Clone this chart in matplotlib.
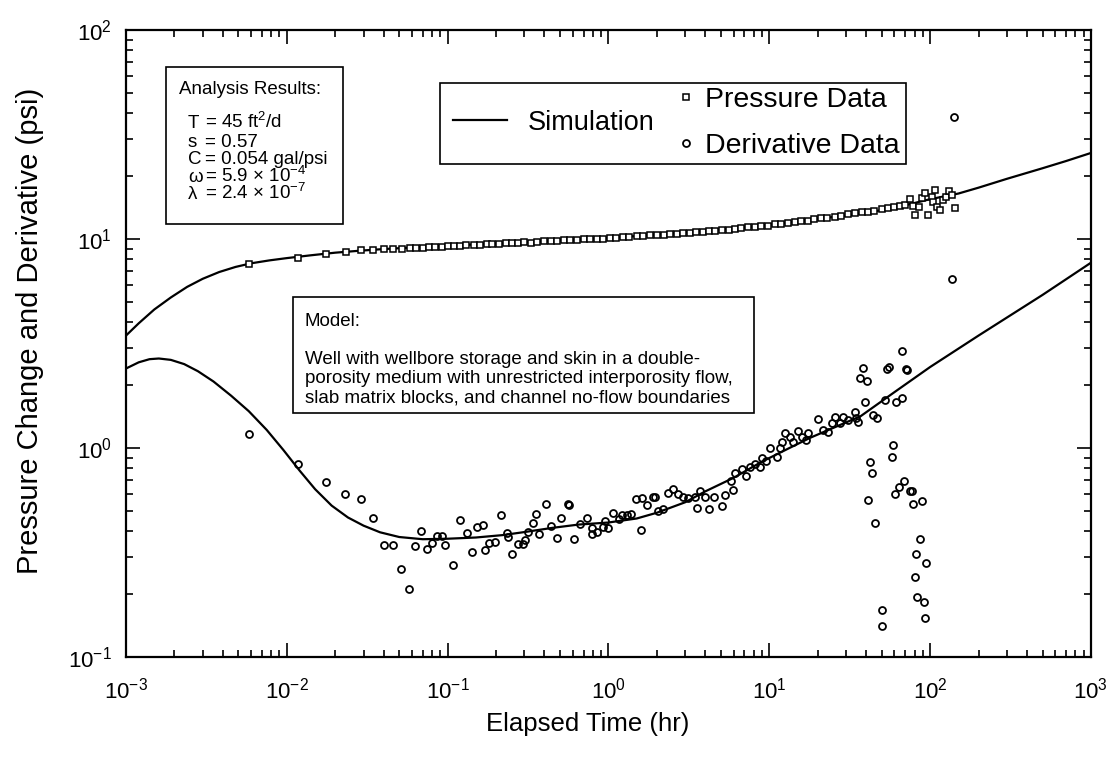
import matplotlib
matplotlib.use("Agg")
import matplotlib.pyplot as plt
from matplotlib.patches import Rectangle
from matplotlib.ticker import LogLocator, NullFormatter

plt.rcParams['font.family'] = ['Liberation Sans', 'DejaVu Sans']
plt.rcParams['mathtext.fontset'] = 'custom'
plt.rcParams['mathtext.rm'] = 'Liberation Sans'
plt.rcParams['mathtext.it'] = 'Liberation Sans:italic'
plt.rcParams['mathtext.bf'] = 'Liberation Sans:bold'
plt.rcParams['mathtext.default'] = 'regular'

# simulated type curves
sim_t = [0.001, 0.0012, 0.0015, 0.0019, 0.0024, 0.003, 0.0038, 0.0048, 0.006, 0.0078,
         0.01, 0.014, 0.02, 0.028, 0.04, 0.06, 0.1, 0.2, 0.5, 1,
         2, 3, 5, 7, 10, 14, 20, 30, 44, 65,
         100, 150, 200, 300, 500, 700, 1000]
sim_p = [3.45, 3.95, 4.6, 5.25, 5.9, 6.45, 6.95, 7.35, 7.65, 7.9,
         8.1, 8.35, 8.6, 8.78, 8.95, 9.1, 9.3, 9.5, 9.85, 10.1,
         10.5, 10.75, 11.1, 11.35, 11.7, 12.05, 12.5, 12.95, 13.5, 14.3,
         15.5, 16.5, 17.6, 19.4, 21.8, 23.6, 25.8]

simd_t = [0.001, 0.0012, 0.0014, 0.0016, 0.0019, 0.0023, 0.0028, 0.0035, 0.0045, 0.0058,
          0.0075, 0.0095, 0.012, 0.015, 0.019, 0.024, 0.03, 0.038, 0.05, 0.07,
          0.1, 0.15, 0.22, 0.3, 0.45, 0.65, 1.0, 1.5, 2, 3,
          4, 6, 9, 13, 18, 27, 37, 60, 100, 200,
          500, 1000]
sim_d = [2.4, 2.57, 2.66, 2.68, 2.64, 2.52, 2.33, 2.08, 1.78, 1.5,
         1.22, 0.98, 0.78, 0.635, 0.53, 0.465, 0.425, 0.395, 0.375, 0.366,
         0.368, 0.373, 0.383, 0.396, 0.415, 0.43, 0.44, 0.46, 0.49, 0.55,
         0.62, 0.72, 0.86, 0.99, 1.12, 1.28, 1.42, 1.85, 2.44, 3.45,
         5.4, 7.7]

# pressure change data
press_t = [0.0058, 0.0118, 0.0175, 0.0233, 0.029, 0.0345, 0.040, 0.046, 0.052, 0.058,
           0.064, 0.070, 0.077, 0.084, 0.092, 0.10, 0.11, 0.12, 0.13, 0.145,
           0.16, 0.175, 0.19, 0.21, 0.23, 0.25, 0.275, 0.30, 0.33, 0.36,
           0.40, 0.44, 0.48, 0.53, 0.58, 0.64, 0.70, 0.77, 0.85, 0.93,
           1.02, 1.12, 1.23, 1.35, 1.5, 1.65, 1.8, 2.0, 2.2, 2.4,
           2.65, 2.9, 3.2, 3.5, 3.85, 4.2, 4.6, 5.1, 5.6, 6.1,
           6.7, 7.4, 8.1, 8.9, 9.8, 10.8, 11.9, 13.1, 14.4, 15.8,
           17.4, 19.1, 21, 23, 25.5, 28, 31, 34, 37.5, 41,
           45, 50, 55, 60, 65, 70,
           75.1, 78.0, 80.7, 85.8, 88.8, 93.1, 96.8, 102.5, 104.8, 107.4,
           110.1, 115.4, 121, 125.8, 131.3, 136.5, 143]
press_p = [7.55, 8.15, 8.5, 8.7, 8.85, 8.85, 8.95, 8.95, 9.0, 9.05,
           9.05, 9.1, 9.2, 9.15, 9.2, 9.25, 9.3, 9.25, 9.35, 9.4,
           9.4, 9.45, 9.5, 9.45, 9.55, 9.55, 9.6, 9.65, 9.6, 9.7,
           9.75, 9.8, 9.8, 9.85, 9.9, 9.9, 9.95, 10.0, 10.05, 10.05,
           10.1, 10.15, 10.2, 10.25, 10.3, 10.35, 10.4, 10.45, 10.5, 10.55,
           10.6, 10.65, 10.7, 10.8, 10.85, 10.9, 10.95, 11.05, 11.1, 11.2,
           11.25, 11.35, 11.4, 11.55, 11.6, 11.75, 11.85, 11.95, 12.05, 12.15,
           12.25, 12.4, 12.55, 12.65, 12.8, 12.95, 13.1, 13.25, 13.4, 13.5,
           13.65, 13.85, 14.0, 14.2, 14.45, 14.6,
           15.54, 14.38, 13.02, 14.27, 15.66, 16.55, 13.02, 15.94, 15.08, 17.16,
           14.27, 13.76, 15.37, 15.94, 17.02, 16.24, 14.03]

# derivative data
deriv_t = [0.00585, 0.0118, 0.0175, 0.0231, 0.0288, 0.0344, 0.0402, 0.0457, 0.0515, 0.0573,
           0.063, 0.0686, 0.0741, 0.0796, 0.0855, 0.0919, 0.0968, 0.108, 0.1194, 0.1315,
           0.1418, 0.153, 0.1653, 0.170, 0.1816, 0.198, 0.2148, 0.2331, 0.2375, 0.2504,
           0.2728, 0.293, 0.303, 0.3177, 0.341, 0.353, 0.3717, 0.409, 0.4415, 0.477,
           0.5095, 0.558, 0.571, 0.611, 0.666, 0.733, 0.794, 0.794, 0.853, 0.922,
           0.953, 0.990, 1.073, 1.169, 1.22, 1.30, 1.382, 1.479, 1.588, 1.611,
           1.745, 1.902, 1.949, 2.026, 2.195, 2.358, 2.533, 2.720, 2.923, 3.14,
           3.456, 3.572, 3.713, 3.989, 4.24, 4.556, 5.066, 5.31, 5.763, 5.93,
           6.13, 6.745, 7.175, 7.595, 8.16, 8.766, 8.98, 9.55, 10.1, 11.13,
           11.67, 11.96, 12.54, 13.47, 14.12, 15.17, 15.92, 16.94, 17.51, 20.2,
           21.7, 23.3, 24.5, 25.7, 27.6, 28.9, 31.0, 34.2, 34.7, 35.5,
           36.7, 38.5, 39.4, 40.7, 41.2, 42.5, 43.6, 44.0, 45.3, 47.0,
           50.07, 50.3, 52.5, 53.8, 55.8, 57.8, 58.6, 60.8, 61.5, 63.9,
           66.7, 66.7, 69.2, 70.9, 72.2, 74.7, 76.9, 78.0, 80.3, 81.5,
           83.4, 86.3, 88.8, 91.4, 93.5, 94.0, 137.6, 141.6]
deriv_d = [1.17, 0.836, 0.688, 0.600, 0.568, 0.462, 0.345, 0.345, 0.264, 0.211,
           0.341, 0.402, 0.330, 0.352, 0.380, 0.378, 0.345, 0.275, 0.454, 0.393,
           0.319, 0.417, 0.428, 0.326, 0.352, 0.354, 0.476, 0.393, 0.374, 0.310,
           0.348, 0.348, 0.363, 0.395, 0.436, 0.485, 0.389, 0.541, 0.423, 0.372,
           0.461, 0.538, 0.534, 0.367, 0.433, 0.464, 0.413, 0.386, 0.398, 0.419,
           0.449, 0.416, 0.490, 0.459, 0.478, 0.478, 0.482, 0.568, 0.405, 0.574,
           0.534, 0.585, 0.585, 0.499, 0.512, 0.607, 0.634, 0.602, 0.581, 0.574,
           0.585, 0.515, 0.625, 0.585, 0.512, 0.585, 0.528, 0.596, 0.695, 0.630,
           0.757, 0.791, 0.735, 0.809, 0.836, 0.814, 0.893, 0.870, 0.997, 0.909,
           0.997, 1.072, 1.176, 1.133, 1.072, 1.21, 1.133, 1.092, 1.176, 1.372,
           1.219, 1.197, 1.313, 1.412, 1.313, 1.412, 1.361, 1.492, 1.387, 1.336,
           2.17, 2.41, 1.665, 2.10, 0.564, 0.854, 0.757, 1.439, 0.439, 1.387,
           0.168, 0.141, 1.697, 2.38, 2.43, 0.906, 1.034, 0.602, 1.665, 0.649,
           1.729, 2.92, 0.698, 2.38, 2.36, 0.625, 0.623, 0.538, 0.242, 0.310,
           0.194, 0.366, 0.558, 0.184, 0.154, 0.283, 6.44, 38.2]

fig = plt.figure(figsize=(11.18, 7.59), dpi=100)
ax = fig.add_axes([0.1127, 0.1344, 0.8631, 0.8261])

sim_h, = ax.plot(sim_t, sim_p, color='black', lw=1.6)
ax.plot(simd_t, sim_d, color='black', lw=1.6)
p_h, = ax.plot(press_t, press_p, ls='none', marker='s', ms=4.6, mfc='white',
               mec='black', mew=1.1)
d_h, = ax.plot(deriv_t, deriv_d, ls='none', marker='o', ms=5.0, mfc='none',
               mec='black', mew=1.3)

ax.set_xscale('log')
ax.set_yscale('log')
ax.set_xlim(1e-3, 1e3)
ax.set_ylim(0.1, 100)
ax.xaxis.set_minor_locator(LogLocator(base=10, subs=range(2, 10), numticks=20))
ax.yaxis.set_minor_locator(LogLocator(base=10, subs=range(2, 10), numticks=20))
ax.xaxis.set_minor_formatter(NullFormatter())
ax.yaxis.set_minor_formatter(NullFormatter())
ax.tick_params(which='both', direction='in', top=True, right=True, width=1.2)
ax.tick_params(which='major', length=10, labelsize=16)
ax.tick_params(axis='x', which='major', pad=15)
ax.tick_params(axis='y', which='major', pad=10)
ax.tick_params(which='minor', length=5)
for sp in ax.spines.values():
    sp.set_linewidth(1.6)

fig.text(588 / 1118, 1 - 724 / 759, 'Elapsed Time (hr)', fontsize=18.5,
         ha='center', va='center')
fig.text(30 / 1118, 1 - 331 / 759, 'Pressure Change and Derivative (psi)', fontsize=21,
         rotation=90, ha='center', va='center')

# legend: simulation on the left, data markers on the right, one common frame
ax.add_patch(Rectangle((0.3254, 0.7863), 0.4829, 0.1292, transform=ax.transAxes,
                       fill=False, ec='black', lw=1.2, zorder=5))
leg1 = ax.legend([sim_h], ['Simulation'], loc='center left', bbox_to_anchor=(0.3389, 0.852),
                 frameon=False, fontsize=19.5, handlelength=2.0, handletextpad=0.75,
                 borderpad=0, borderaxespad=0)
ax.add_artist(leg1)
ax.legend([p_h, d_h], ['Pressure Data', 'Derivative Data'], loc='center left',
          bbox_to_anchor=(0.572, 0.852), frameon=False, fontsize=20.5, handlelength=0.6,
          handletextpad=0.35, labelspacing=0.7, borderpad=0, borderaxespad=0)

# analysis results box
ax.add_patch(Rectangle((0.0415, 0.6906), 0.1834, 0.2504, transform=ax.transAxes,
                       fill=False, ec='black', lw=1.2, zorder=5))
ax.text(0.0549, 0.9043, 'Analysis Results:', transform=ax.transAxes, fontsize=13.5, va='center')
res_sym = ['T', 's', 'C', '\u03c9', '\u03bb']
res_val = ['= 45 ft$^2$/d', '= 0.57', '= 0.054 gal/psi', '= 5.9 \u00d7 10$^{-4}$',
           '= 2.4 \u00d7 10$^{-7}$']
res_y = [0.8437, 0.8134, 0.7863, 0.7576, 0.7305]
for sym, val, yy in zip(res_sym, res_val, res_y):
    ax.text(0.0642, yy, sym, transform=ax.transAxes, fontsize=13.5, va='baseline')
    ax.text(0.0815, yy, val, transform=ax.transAxes, fontsize=13.5, va='baseline')

# model box
ax.add_patch(Rectangle((0.1731, 0.3892), 0.4777, 0.185, transform=ax.transAxes,
                       fill=False, ec='black', lw=1.2, zorder=5))
ax.text(0.1855, 0.5343, 'Model:', transform=ax.transAxes, fontsize=13.5, va='center')
model_lines = ['Well with wellbore storage and skin in a double-',
               'porosity medium with unrestricted interporosity flow,',
               'slab matrix blocks, and channel no-flow boundaries']
for i, line in enumerate(model_lines):
    ax.text(0.1855, 0.474 - i * 0.0305, line, transform=ax.transAxes, fontsize=13.5, va='center')

fig.savefig('out.png', dpi=100)
